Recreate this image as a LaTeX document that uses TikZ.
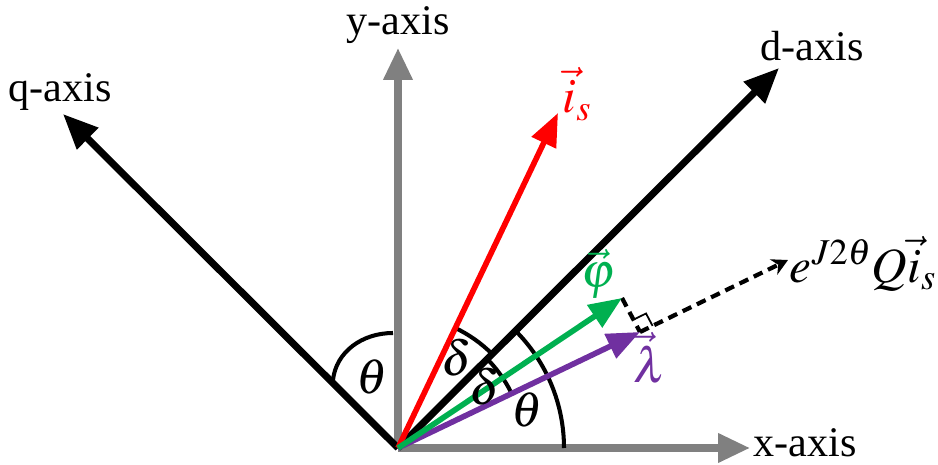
\documentclass[tikz,border=0pt]{standalone}
\usepackage{mathptmx}
\usepackage{fontspec}
\newfontfamily\labelfont{Liberation Serif}
\usetikzlibrary{arrows.meta,calc}
\definecolor{axisgray}{HTML}{808080}
\definecolor{curred}{HTML}{FF0000}
\definecolor{fluxgreen}{HTML}{00B050}
\definecolor{lampurple}{HTML}{7030A0}
\tikzset{
  grayaxis/.style={-{Triangle[length=6.4mm,width=5.6mm]},line width=4pt,
                   draw=axisgray},
  dqaxis/.style={-{Triangle[length=7mm,width=5.8mm]},line width=4pt,
                 draw=black},
  vecarr/.style={-{Triangle[length=6.6mm,width=5.2mm]},line width=3.2pt},
  anglearc/.style={line width=2.3pt,draw=black},
  projline/.style={line width=2.4pt,dash pattern=on 5.5pt off 3.5pt},
  axlabel/.style={font=\labelfont\fontsize{24}{28}\selectfont,inner sep=0pt},
  mathlabel/.style={font=\fontsize{28}{33}\selectfont,inner sep=0pt}
}

\begin{document}
\begin{tikzpicture}[x=0.02cm,y=0.02cm]
    \path[use as bounding box] (0,0) rectangle (938,464);

    % origin and vector tips
    \coordinate (O) at (398,16);
    \coordinate (xt) at (750,16);
    \coordinate (yt) at (398,416);
    \coordinate (qt) at (63,350);
    \coordinate (dt) at (779,396);
    \coordinate (ist) at (558,351);
    \coordinate (pt) at (622,166);
    \coordinate (lt) at (640,132);
    \coordinate (qit) at (788,204);

    \draw[grayaxis] (O) -- (xt);
    \draw[grayaxis] (O) -- (yt);
    \draw[dqaxis] (O) -- (qt);
    \draw[dqaxis] (O) -- (dt);

    % angle arcs
    \draw[anglearc] ($(O)+(166,0)$) arc[start angle=0,end angle=45,radius=3.32cm];
    \draw[anglearc] ($(O)+(45:133)$) arc[start angle=45,end angle=64.5,radius=2.66cm];
    \draw[anglearc] ($(O)+(26:126)$) arc[start angle=26,end angle=45,radius=2.52cm];
    \draw[anglearc] (393,131) .. controls (362,131) and (336,112) .. (333,84);

    % projection
    \draw[projline] (pt) -- (lt);
    \draw[projline,-{Stealth[length=3.2mm,width=3.4mm]}] (lt) -- (qit);
    \coordinate (ra1) at ($(lt)!0.28cm!(pt)$);
    \coordinate (ra3) at ($(lt)!0.28cm!(qit)$);
    \coordinate (ra2) at ($(ra1)+(ra3)-(lt)$);
    \draw[line width=1pt] (ra1) -- (ra2) -- (ra3);

    \draw[vecarr,draw=curred] (O) -- (ist);
    \draw[vecarr,draw=lampurple] (O) -- (lt);
    \draw[vecarr,draw=fluxgreen] (O) -- (pt);

    % labels
    \node[axlabel] (xl) at (805,21) {x-axis};
    \node[axlabel] (yl) at (398,439) {y-axis};
    \node[axlabel] (ql) at (60,372) {q-axis};
    \node[axlabel] (dl) at (812,418) {d-axis};
    \node[mathlabel,text=curred] (isl) at (577,370) {$\vec{i}_s$};
    \node[mathlabel,text=fluxgreen] (pl) at (598,190) {$\vec{\varphi}$};
    \node[mathlabel,text=lampurple] (ll) at (650,106) {$\vec{\lambda}$};
    \node[mathlabel] (ql2) at (863,200) {$e^{J2\theta}Q\vec{i}_s$};
    \node[mathlabel] (th1) at (372,87) {$\theta$};
    \node[mathlabel] (th2) at (527,54) {$\theta$};
    \node[mathlabel] (de1) at (457,106) {$\delta$};
    \node[mathlabel] (de2) at (485,77) {$\delta$};
\end{tikzpicture}
\end{document}
